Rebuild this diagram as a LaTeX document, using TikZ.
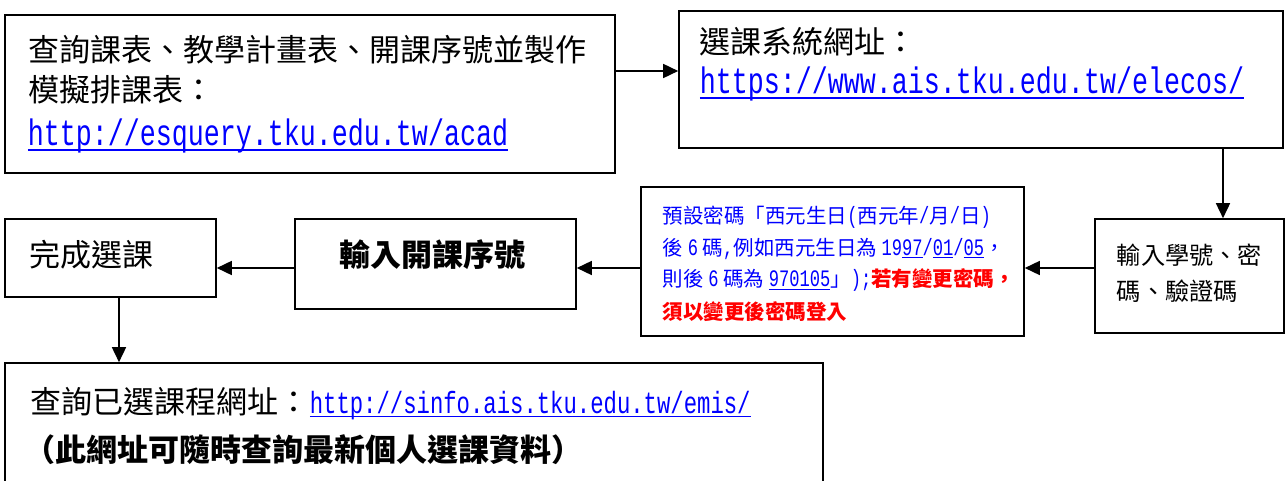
\documentclass[tikz,border=0pt]{standalone}
\usepackage{fontspec}
\setmainfont{Noto Sans CJK TC}
\newfontfamily\latinfont[Scale=1.15, FakeStretch=0.725]{Liberation Mono}
\usetikzlibrary{arrows.meta}
\definecolor{linkblue}{RGB}{0,0,255}
\definecolor{warnred}{RGB}{255,0,0}
\newcommand\linkline[1]{\setbox0=\hbox{#1}\rlap{\rule[-0.14em]{\wd0}{0.055em}}\box0}
\newcommand\fs[1]{\fontsize{#1}{#1}\selectfont}

\begin{document}
\begin{tikzpicture}[x=1pt, y=-1pt, line width=1.6pt,
        frame/.style={draw, line width=1.6pt, inner sep=0pt},
        txt/.style={anchor=base west, inner sep=0pt},
        >={Triangle[length=15pt,width=14pt]}]
    \useasboundingbox (0,0) rectangle (1288,481);
    % boxes
    \node [frame, minimum width=610, minimum height=158] (plan) at (310,94) {};
    \node [frame, minimum width=604, minimum height=137] (portal) at (981,79.5) {};
    \node [frame, minimum width=189, minimum height=114] (login) at (1189.5,276) {};
    \node [frame, minimum width=383, minimum height=149] (pwd) at (832.5,261.5) {};
    \node [frame, minimum width=281, minimum height=90] (code) at (435.5,264) {};
    \node [frame, minimum width=211, minimum height=78] (done) at (110.5,258) {};
    \node [frame, minimum width=818, minimum height=150] (query) at (414,438) {};
    % texts
    \node [txt] (plan1) at (28,62) {\fs{31}查詢課表、教學計畫表、開課序號並製作};
    \node [txt] (plan2) at (28,102) {\fs{31}模擬排課表：};
    \node [txt] (plan3) at (27,146) {\latinfont\fs{32}\color{linkblue}\linkline{http://esquery.tku.edu.tw/acad}};
    \node [txt] (portal1) at (699,54) {\fs{31}選課系統網址：};
    \node [txt] (portal2) at (699,94) {\latinfont\fs{32}\color{linkblue}\linkline{https://www.ais.tku.edu.tw/elecos/}};
    \node [txt] (login1) at (1116,265) {\fs{24.2}輸入學號、密};
    \node [txt] (login2) at (1116,300) {\fs{24.2}碼、驗證碼};
    \node [txt, text=linkblue] (pwd1) at (662,224) {\fs{20.5}預設密碼「西元生日{\latinfont(}西元年{\latinfont/}月{\latinfont/}日{\latinfont)}};
    \node [txt, text=linkblue] (pwd2) at (662,255) {\fs{20.5}後 {\latinfont 6} 碼{\latinfont,}例如西元生日為 {\latinfont 19\linkline{97}/\linkline{01}/\linkline{05}}，};
    \node [txt, text=linkblue] (pwd3) at (662,287) {\fs{20.5}則後 {\latinfont 6} 碼為 {\latinfont\linkline{970105}}」{\latinfont);}{\color{warnred}\bfseries 若有變更密碼，}};
    \node [txt, text=warnred] (pwd4) at (662,319) {\fs{20.5}\bfseries 須以變更後密碼登入};
    \node [txt] (code1) at (339,266) {\fs{31}\bfseries 輸入開課序號};
    \node [txt] (done1) at (29,266) {\fs{31}完成選課};
    \node [txt] (query1) at (30,413) {\fs{31}查詢已選課程網址：{\latinfont\fs{26.7}\color{linkblue}\linkline{http://sinfo.ais.tku.edu.tw/emis/}}};
    \node [txt] (query2) at (24,461) {\fs{31}\bfseries （此網址可隨時查詢最新個人選課資料）};
    % arrows
    \coordinate (rowA) at (0,71);
    \coordinate (rowB) at (0,268);
    \coordinate (colE) at (1223,0);
    \coordinate (colG) at (119,0);
    \draw [->] (plan.east |- rowA) -- (portal.west |- rowA);
    \draw [->] (portal.south -| colE) -- (login.north -| colE);
    \draw [->] (login.west |- rowB) -- (pwd.east |- rowB);
    \draw [->] (pwd.west |- rowB) -- (code.east |- rowB);
    \draw [->] (code.west |- rowB) -- (done.east |- rowB);
    \draw [->] (done.south -| colG) -- (query.north -| colG);
\end{tikzpicture}
\end{document}
